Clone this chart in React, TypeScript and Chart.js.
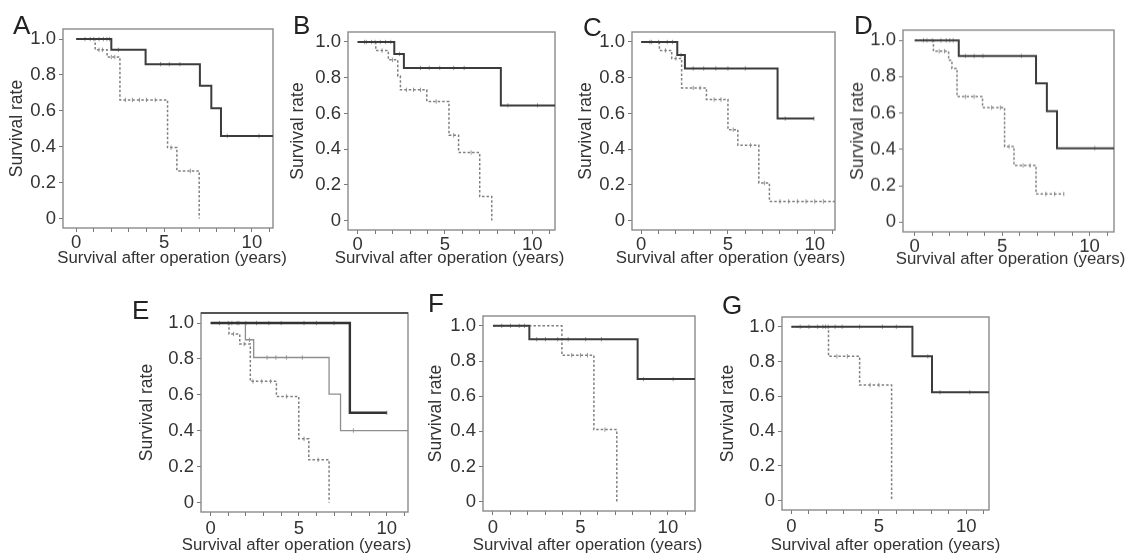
import React, { useEffect, useRef } from 'react';
import { Chart, registerables } from 'chart.js';

Chart.register(...registerables);

const FONT = "'Liberation Sans', Arial, Helvetica, sans-serif";

// ---- axis ticks / titles ----
const xTickValues = [0, 1, 2, 3, 4, 5, 6, 7, 8, 9, 10, 11];
const xTickLabels = ['0', '', '', '', '', '5', '', '', '', '', '10', ''];
const yTickValues = [0, 0.2, 0.4, 0.6, 0.8, 1.0];
const yTickLabels = ['0', '0.2', '0.4', '0.6', '0.8', '1.0'];
const xAxisTitle = 'Survival after operation (years)';
const yAxisTitle = 'Survival rate';
const panelLetters = ['A', 'B', 'C', 'D', 'E', 'F', 'G'];

// ---- Panel A ----
const aSolidTimes = [0, 2.0, 3.95, 7.04, 7.69, 8.24, 11.2];
const aSolidSurv = [1, 0.94, 0.86, 0.74, 0.615, 0.46, 0.46];
const aSolidCensor = [1.0, 1.3, 1.55, 1.75, 1.9, 2.4, 4.8, 5.3, 5.9, 8.6, 10.4];
const aDotTimes = [0, 1.08, 1.76, 2.49, 5.2, 5.73, 7.0];
const aDotSurv = [1, 0.94, 0.9, 0.661, 0.395, 0.265, 0];
const aDotCensor = [0.5, 0.8, 1.3, 1.5, 2.0, 2.2, 2.8, 3.2, 3.6, 4.0, 4.5, 5.4, 6.5];

// ---- Panel B ----
const bSolidTimes = [0, 2.1, 2.65, 8.2, 11.3];
const bSolidSurv = [1, 0.933, 0.855, 0.645, 0.645];
const bSolidCensor = [0.5, 1.0, 1.3, 1.6, 1.9, 2.4, 3.6, 4.1, 4.7, 5.5, 6.1, 8.6, 10.3];
const bDotTimes = [0, 1.04, 1.76, 2.3, 2.45, 3.96, 5.23, 5.78, 6.99, 7.68];
const bDotSurv = [1, 0.952, 0.9, 0.81, 0.732, 0.667, 0.478, 0.381, 0.134, 0];
const bDotCensor = [0.4, 0.8, 1.4, 2.0, 2.8, 3.2, 3.6, 4.5, 5.5, 6.5];

// ---- Panel C ----
const cSolidTimes = [0, 2.08, 2.52, 7.86, 9.96];
const cSolidSurv = [1, 0.927, 0.852, 0.571, 0.571];
const cSolidCensor = [0.5, 1.0, 1.5, 1.8, 2.3, 3.0, 3.6, 4.3, 5.0, 6.0, 8.3, 9.96];
const cDotTimes = [0, 1.05, 1.76, 2.33, 3.76, 5.0, 5.57, 6.78, 7.39, 11.17];
const cDotSurv = [1, 0.953, 0.908, 0.743, 0.678, 0.509, 0.421, 0.21, 0.107, 0.107];
const cDotCensor = [0.6, 1.4, 2.0, 3.0, 3.4, 4.2, 4.6, 5.3, 6.3, 7.1, 8.0, 8.5, 9.0, 9.5, 10.0, 10.5];

// ---- Panel D ----
const dSolidTimes = [0, 2.52, 6.94, 7.56, 8.14, 11.4];
const dSolidSurv = [1, 0.914, 0.763, 0.611, 0.407, 0.407];
const dSolidCensor = [0.5, 1.0, 1.5, 1.8, 2.0, 2.2, 2.9, 3.4, 3.9, 6.1, 10.3];
const dDotTimes = [0, 1.07, 1.94, 2.13, 2.42, 3.88, 5.14, 5.68, 6.94, 8.53];
const dDotSurv = [1, 0.94, 0.89, 0.845, 0.69, 0.63, 0.416, 0.312, 0.155, 0.155];
const dDotCensor = [0.7, 1.4, 1.7, 2.9, 3.4, 4.4, 4.9, 5.4, 6.2, 6.6, 7.5, 8.0, 8.53];

// ---- Panel E ----
const eThickTimes = [0, 7.9, 10.0];
const eThickSurv = [1, 0.5, 0.5];
const eThickCensor = [0.5, 1.2, 1.6, 2.0, 2.6, 3.3, 4.0, 5.3, 6.0, 7.0, 10.0];
const eThinTimes = [0, 1.97, 2.44, 6.72, 7.37, 11.2];
const eThinSurv = [1, 0.907, 0.808, 0.604, 0.401, 0.401];
const eThinCensor = [1.0, 1.5, 2.2, 3.2, 3.7, 4.3, 5.2, 8.1];
const eDotTimes = [0, 1.04, 1.65, 2.25, 3.73, 5.0, 5.57, 6.72];
const eDotSurv = [1, 0.939, 0.883, 0.675, 0.591, 0.355, 0.238, 0];
const eDotCensor = [1.3, 1.9, 2.4, 2.9, 3.4, 4.3, 5.3, 6.1];

// ---- Panel F ----
const fSolidTimes = [0, 2.08, 8.27, 11.55];
const fSolidSurv = [1, 0.924, 0.697, 0.697];
const fSolidCensor = [0.5, 1.0, 1.5, 1.8, 2.5, 3.0, 3.7, 4.3, 5.3, 6.2, 8.6, 10.3];
const fDotTimes = [0, 3.94, 5.77, 7.08];
const fDotSurv = [1, 0.833, 0.41, 0];
const fDotCensor = [4.5, 5.0, 5.4, 6.4];

// ---- Panel G ----
const gSolidTimes = [0, 6.92, 8.04, 11.3];
const gSolidSurv = [1, 0.83, 0.624, 0.624];
const gSolidCensor = [0.5, 1.0, 1.5, 1.8, 1.95, 2.1, 2.5, 2.9, 3.9, 5.2, 6.0, 7.8, 8.5, 10.2];
const gDotTimes = [0, 2.12, 3.9, 5.73];
const gDotSurv = [1, 0.83, 0.665, 0];
const gDotCensor = [2.6, 3.2, 4.5, 5.0];

type Curve = { times: number[]; surv: number[]; censor: number[]; style: 'solid' | 'dotted' | 'thin' | 'thick' };

const panelCurves: Curve[][] = [
  [
    { times: aSolidTimes, surv: aSolidSurv, censor: aSolidCensor, style: 'solid' },
    { times: aDotTimes, surv: aDotSurv, censor: aDotCensor, style: 'dotted' },
  ],
  [
    { times: bSolidTimes, surv: bSolidSurv, censor: bSolidCensor, style: 'solid' },
    { times: bDotTimes, surv: bDotSurv, censor: bDotCensor, style: 'dotted' },
  ],
  [
    { times: cSolidTimes, surv: cSolidSurv, censor: cSolidCensor, style: 'solid' },
    { times: cDotTimes, surv: cDotSurv, censor: cDotCensor, style: 'dotted' },
  ],
  [
    { times: dSolidTimes, surv: dSolidSurv, censor: dSolidCensor, style: 'solid' },
    { times: dDotTimes, surv: dDotSurv, censor: dDotCensor, style: 'dotted' },
  ],
  [
    { times: eThickTimes, surv: eThickSurv, censor: eThickCensor, style: 'thick' },
    { times: eThinTimes, surv: eThinSurv, censor: eThinCensor, style: 'thin' },
    { times: eDotTimes, surv: eDotSurv, censor: eDotCensor, style: 'dotted' },
  ],
  [
    { times: fSolidTimes, surv: fSolidSurv, censor: fSolidCensor, style: 'solid' },
    { times: fDotTimes, surv: fDotSurv, censor: fDotCensor, style: 'dotted' },
  ],
  [
    { times: gSolidTimes, surv: gSolidSurv, censor: gSolidCensor, style: 'solid' },
    { times: gDotTimes, surv: gDotSurv, censor: gDotCensor, style: 'dotted' },
  ],
];

// ---- panel placement (plot box in page pixels) ----
const panelLayouts = [
  { L: 63, T: 29, R: 273, B: 228, xMin: -0.75, xMax: 11.2, yTitleOff: 46, xTitleOff: 30, xTitleShift: 4, xTickPad: 0, lx: 13, ly: 15, topDark: false },
  { L: 348, T: 31.5, R: 555, B: 230, xMin: -0.55, xMax: 11.3, yTitleOff: 50, xTitleOff: 28.5, xTitleShift: -2, xTickPad: 0, lx: 293, ly: 15, topDark: false },
  { L: 632, T: 32, R: 835, B: 230, xMin: -0.53, xMax: 11.17, yTitleOff: 46, xTitleOff: 28, xTitleShift: -3, xTickPad: 0, lx: 583, ly: 17, topDark: false },
  { L: 903, T: 30, R: 1114, B: 231.5, xMin: -0.67, xMax: 11.4, yTitleOff: 45, xTitleOff: 27, xTitleShift: 2, xTickPad: 0, lx: 854, ly: 15, topDark: false },
  { L: 201, T: 313, R: 408, B: 512, xMin: -0.55, xMax: 11.2, yTitleOff: 54, xTitleOff: 33, xTitleShift: -8, xTickPad: 2, lx: 132, ly: 300, topDark: true },
  { L: 483, T: 316, R: 695, B: 511, xMin: -0.57, xMax: 11.55, yTitleOff: 47, xTitleOff: 34, xTitleShift: -1.5, xTickPad: 2, lx: 428, ly: 293, topDark: false },
  { L: 782, T: 317, R: 989, B: 510, xMin: -0.54, xMax: 11.3, yTitleOff: 54, xTitleOff: 35, xTitleShift: 0, xTickPad: 2, lx: 722, ly: 295, topDark: false },
];

const Y_MIN = -0.053;
const Y_MAX = 1.056;
const AXIS_W = 74;
const AXIS_H = 50;
const PAD_TOP = 32;
const PAD_RIGHT = 14;
const TICK_FONT = 18.5;
const XTITLE_FONT = 16.8;
const YTITLE_FONT = 17.5;

const styles: Record<string, { color: string; width: number; dash: number[] }> = {
  solid: { color: '#3c3c3c', width: 2, dash: [] },
  thick: { color: '#333333', width: 2.4, dash: [] },
  thin: { color: '#8e8e8e', width: 1.3, dash: [] },
  dotted: { color: '#808080', width: 1.5, dash: [2.5, 2] },
};

function survAt(times: number[], surv: number[], t: number) {
  let s = surv[0];
  for (let i = 0; i < times.length; i++) {
    if (times[i] <= t) s = surv[i];
  }
  return s;
}

const framePlugin = {
  id: 'frame',
  beforeDatasetsDraw(chart: any, _args: any, opts: any) {
    const { ctx, chartArea } = chart;
    const { left, top, right, bottom } = chartArea;
    ctx.save();
    ctx.strokeStyle = '#8a8a8a';
    ctx.lineWidth = 1.4;
    ctx.strokeRect(left, top, right - left, bottom - top);
    if (opts && opts.topDark) {
      ctx.strokeStyle = '#555';
      ctx.lineWidth = 2.2;
      ctx.beginPath();
      ctx.moveTo(left, top);
      ctx.lineTo(right, top);
      ctx.stroke();
    }
    ctx.restore();
  },
};

// x-axis title drawn without Chart.js' maxWidth squeezing (the text is wider than the plot box)
const xTitlePlugin = {
  id: 'xTitle',
  afterDraw(chart: any, _args: any, opts: any) {
    const { ctx, chartArea } = chart;
    ctx.save();
    ctx.font = `${XTITLE_FONT}px ${FONT}`;
    ctx.fillStyle = '#333';
    ctx.textAlign = 'center';
    ctx.textBaseline = 'middle';
    ctx.fillText(opts.text, (chartArea.left + chartArea.right) / 2 + opts.shift, chartArea.bottom + opts.offset);
    ctx.restore();
  },
};

function Panel({ index }: { index: number }) {
  const ref = useRef<HTMLCanvasElement | null>(null);
  const lay = panelLayouts[index];
  const width = lay.R - lay.L + AXIS_W + PAD_RIGHT;
  const height = lay.B - lay.T + PAD_TOP + AXIS_H;

  useEffect(() => {
    if (!ref.current) return;
    const datasets: any[] = [];
    panelCurves[index].forEach((c) => {
      const st = styles[c.style];
      datasets.push({
        data: c.times.map((t, i) => ({ x: t, y: c.surv[i] })),
        stepped: true,
        borderColor: st.color,
        borderWidth: st.width,
        borderDash: st.dash,
        pointRadius: 0,
        fill: false,
      });
      datasets.push({
        data: c.censor.map((t) => ({ x: t, y: survAt(c.times, c.surv, t) })),
        showLine: false,
        pointStyle: 'line',
        rotation: 90,
        pointRadius: 2.2,
        pointBorderWidth: 1,
        pointBorderColor: '#9a9a9a',
        borderColor: '#9a9a9a',
        backgroundColor: '#9a9a9a',
      });
    });

    const lhY = YTITLE_FONT * 1.2;
    const chart = new Chart(ref.current, {
      type: 'line',
      data: { datasets },
      options: {
        animation: false,
        responsive: false,
        maintainAspectRatio: false,
        devicePixelRatio: 1,
        layout: { padding: { left: 0, top: PAD_TOP, right: PAD_RIGHT, bottom: 0 } },
        plugins: {
          legend: { display: false },
          tooltip: { enabled: false },
          title: { display: false },
          frame: { topDark: lay.topDark },
          xTitle: { text: xAxisTitle, offset: lay.xTitleOff, shift: lay.xTitleShift },
        } as any,
        scales: {
          x: {
            type: 'linear',
            min: lay.xMin,
            max: lay.xMax,
            afterBuildTicks: (axis: any) => {
              axis.ticks = xTickValues.map((v) => ({ value: v }));
            },
            afterFit: (s: any) => {
              s.height = AXIS_H;
            },
            ticks: {
              autoSkip: false,
              maxRotation: 0,
              padding: lay.xTickPad,
              color: '#333',
              font: { family: FONT, size: TICK_FONT },
              callback: (_v: any, i: number) => xTickLabels[i],
            },
            grid: { drawOnChartArea: false, drawTicks: true, tickLength: 4, color: '#777', lineWidth: 1 },
            border: { display: false },
            title: { display: false },
          },
          y: {
            type: 'linear',
            min: Y_MIN,
            max: Y_MAX,
            afterBuildTicks: (axis: any) => {
              axis.ticks = yTickValues.map((v) => ({ value: v }));
            },
            afterFit: (s: any) => {
              s.width = AXIS_W;
            },
            ticks: {
              autoSkip: false,
              padding: 3,
              color: '#333',
              font: { family: FONT, size: TICK_FONT },
              callback: (_v: any, i: number) => yTickLabels[i],
            },
            grid: { drawOnChartArea: false, drawTicks: true, tickLength: 4, color: '#777', lineWidth: 1 },
            border: { display: false },
            title: {
              display: true,
              text: yAxisTitle,
              color: '#333',
              font: { family: FONT, size: YTITLE_FONT },
              padding: { top: AXIS_W - lay.yTitleOff - lhY / 2, bottom: 0 },
            },
          },
        },
      },
      plugins: [framePlugin, xTitlePlugin],
    });
    return () => chart.destroy();
  }, [index]);

  return (
    <>
      <canvas
        ref={ref}
        width={width}
        height={height}
        style={{ position: 'absolute', left: lay.L - AXIS_W, top: lay.T - PAD_TOP, width, height }}
      />
      <div
        style={{
          position: 'absolute',
          left: lay.lx,
          top: lay.ly - 3,
          fontFamily: FONT,
          fontSize: 26,
          lineHeight: 1,
          color: '#222',
        }}
      >
        {panelLetters[index]}
      </div>
    </>
  );
}

export default function App() {
  return (
    <div style={{ position: 'absolute', left: 0, top: 0, width: 1128, height: 560, background: '#fff', overflow: 'hidden' }}>
      {panelLayouts.map((_, i) => (
        <Panel key={i} index={i} />
      ))}
    </div>
  );
}
